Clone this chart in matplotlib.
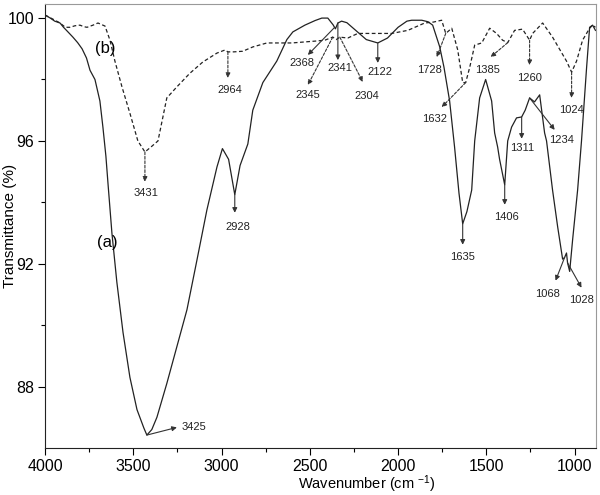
import numpy as np
import matplotlib
matplotlib.use("Agg")
import matplotlib.pyplot as plt

# curve (a), solid
wn_a = [4000, 3970, 3945, 3915, 3895, 3870, 3842, 3815, 3790, 3765, 3745, 3717, 3689, 3672,
        3655, 3643, 3621, 3593, 3558, 3519, 3479, 3440, 3423, 3395, 3366, 3310, 3253, 3196,
        3140, 3083, 3026, 2995, 2960, 2925, 2895, 2851, 2823, 2766, 2687, 2630, 2596, 2528,
        2470, 2432, 2398, 2368, 2355, 2341, 2320, 2290, 2240, 2180, 2115, 2060, 2000, 1950,
        1923, 1866, 1830, 1804, 1764, 1740, 1708, 1680, 1655, 1634, 1610, 1583, 1566, 1538,
        1504, 1470, 1453, 1436, 1425, 1396, 1379, 1357, 1329, 1300, 1280, 1255, 1227, 1198,
        1170, 1159, 1125, 1096, 1068, 1057, 1046, 1040, 1028, 1011, 983, 961, 932, 915, 898, 882]
tr_a = [100.1, 100.0, 99.9, 99.84, 99.7, 99.55, 99.38, 99.2, 99.0, 98.7, 98.3, 98.0, 97.3, 96.45,
        95.5, 94.6, 93.0, 91.4, 89.76, 88.3, 87.25, 86.65, 86.42, 86.6, 87.0, 88.1, 89.3, 90.5,
        92.1, 93.75, 95.15, 95.75, 95.4, 94.25, 95.2, 95.9, 97.0, 97.9, 98.6, 99.3, 99.55, 99.77,
        99.92, 100.0, 100.0, 99.78, 99.65, 99.84, 99.9, 99.85, 99.6, 99.3, 99.19, 99.35, 99.7, 99.9,
        99.93, 99.93, 99.88, 99.77, 99.06, 98.4, 97.3, 95.8, 94.3, 93.3, 93.7, 94.4, 96.0, 97.4,
        98.0, 97.3, 96.26, 95.8, 95.4, 94.57, 96.0, 96.45, 96.75, 96.78, 97.0, 97.4, 97.27, 97.5,
        96.26, 96.0, 94.4, 93.2, 92.15, 92.2, 92.35, 92.03, 91.75, 92.8, 94.4, 96.0, 98.4, 99.7,
        99.77, 99.6]

# curve (b), dashed
wn_b = [4000, 3950, 3915, 3885, 3859, 3830, 3802, 3780, 3762, 3728, 3700, 3660, 3632, 3604,
        3564, 3519, 3474, 3434, 3400, 3360, 3310, 3253, 3180, 3106, 3026, 2981, 2964, 2930,
        2880, 2823, 2743, 2602, 2470, 2415, 2370, 2350, 2330, 2285, 2228, 2130, 2036, 1945,
        1849, 1800, 1753, 1730, 1696, 1662, 1634, 1617, 1594, 1566, 1526, 1481, 1442, 1408,
        1379, 1340, 1295, 1255, 1238, 1181, 1125, 1046, 1017, 989, 955, 915, 898, 882]
tr_b = [100.1, 99.95, 99.84, 99.7, 99.7, 99.75, 99.77, 99.72, 99.7, 99.77, 99.84, 99.74, 99.28, 98.6,
        97.76, 96.9, 96.0, 95.64, 95.8, 96.0, 97.4, 97.76, 98.2, 98.57, 98.86, 98.96, 98.9, 98.9,
        98.92, 99.06, 99.19, 99.19, 99.25, 99.28, 99.38, 99.3, 99.38, 99.35, 99.5, 99.5, 99.5, 99.6,
        99.84, 99.87, 99.93, 99.5, 99.67, 98.96, 97.9, 97.9, 98.4, 99.12, 99.19, 99.67, 99.5, 99.28,
        99.2, 99.6, 99.64, 99.28, 99.5, 99.84, 99.38, 98.6, 98.24, 98.6, 99.28, 99.67, 99.77, 99.7]

# peak labels: text, point on curve, arrow head, label position
peaks_a = [("3425", (3423, 86.42), (3253, 86.67), (3155, 86.68)),
           ("2928", (2925, 94.25), (2925, 93.66), (2908, 93.2)),
           ("2368", (2359, 99.7), (2511, 98.8), (2545, 98.54)),
           ("2341", (2341, 99.84), (2341, 98.63), (2330, 98.37)),
           ("2122", (2115, 99.19), (2115, 98.54), (2104, 98.24)),
           ("1635", (1634, 93.3), (1634, 92.62), (1634, 92.23)),
           ("1406", (1396, 94.57), (1396, 93.92), (1385, 93.53)),
           ("1311", (1300, 96.78), (1300, 96.07), (1295, 95.77)),
           ("1234", (1255, 97.4), (1113, 96.36), (1074, 96.03)),
           ("1068", (1057, 92.2), (1108, 91.45), (1153, 91.0)),
           ("1028", (1040, 92.03), (961, 91.22), (961, 90.83))]
peaks_b = [("3431", (3434, 95.64), (3434, 94.67), (3428, 94.3)),
           ("2964", (2964, 98.9), (2964, 98.05), (2953, 97.66)),
           ("2345", (2370, 99.38), (2511, 97.82), (2511, 97.5)),
           ("2304", (2330, 99.38), (2200, 97.92), (2177, 97.46)),
           ("1728", (1730, 99.5), (1781, 98.73), (1821, 98.3)),
           ("1632", (1617, 97.9), (1753, 97.1), (1793, 96.7)),
           ("1385", (1379, 99.2), (1476, 98.73), (1493, 98.3)),
           ("1260", (1255, 99.28), (1255, 98.47), (1255, 98.05)),
           ("1024", (1017, 98.24), (1017, 97.4), (1017, 97.0))]

plt.rcParams['font.family'] = ['Liberation Sans', 'DejaVu Sans']
plt.rcParams['mathtext.fontset'] = 'custom'
plt.rcParams['mathtext.rm'] = 'Liberation Sans'
plt.rcParams['mathtext.it'] = 'Liberation Sans'

fig = plt.figure(figsize=(6, 4.95), dpi=100)
ax = fig.add_axes([0.075, 0.095, 0.918, 0.897])

ax.plot(wn_a, tr_a, color='#222222', lw=0.9)
ax.plot(wn_b, tr_b, color='#222222', lw=0.9, dashes=(3, 2))

for lab, pt, head, tpos in peaks_a:
    ax.annotate('', xy=head, xytext=pt,
                arrowprops=dict(arrowstyle='-|>', color='#333333', lw=0.8,
                                mutation_scale=7, shrinkA=0, shrinkB=0))
    ax.text(tpos[0], tpos[1], lab, fontsize=8, ha='center', va='center', color='#222222')
for lab, pt, head, tpos in peaks_b:
    ax.annotate('', xy=head, xytext=pt,
                arrowprops=dict(arrowstyle='-|>', color='#333333', lw=0.8, ls=(0, (2.5, 1.5)),
                                mutation_scale=7, shrinkA=0, shrinkB=0))
    ax.text(tpos[0], tpos[1], lab, fontsize=8, ha='center', va='center', color='#222222')

ax.text(3660, 99.02, "(b)", fontsize=12, ha='center', va='center')
ax.text(3649, 92.68, "(a)", fontsize=12, ha='center', va='center')

ax.set_xlim(4000, 880)
ax.set_ylim(86.0, 100.46)
ax.set_xticks([4000, 3500, 3000, 2500, 2000, 1500, 1000])
ax.set_xticks(np.arange(3750, 880, -500), minor=True)
ax.set_yticks([88, 92, 96, 100])
ax.set_yticks([90, 94, 98], minor=True)
ax.tick_params(which='major', direction='out', length=5, width=0.8, labelsize=11.5, pad=3)
ax.tick_params(which='minor', direction='out', length=3, width=0.8)
for s in ['top', 'right']:
    ax.spines[s].set_color('#999999')
for s in ['left', 'bottom']:
    ax.spines[s].set_color('#222222')

ax.set_xlabel('Wavenumber (cm $^{-1}$)', fontsize=10.5)
ax.set_ylabel('Transmittance (%)', fontsize=11)
ax.xaxis.set_label_coords(0.584, -0.057)
ax.yaxis.set_label_coords(-0.05, 0.5)

fig.savefig('out.png', dpi=100)
